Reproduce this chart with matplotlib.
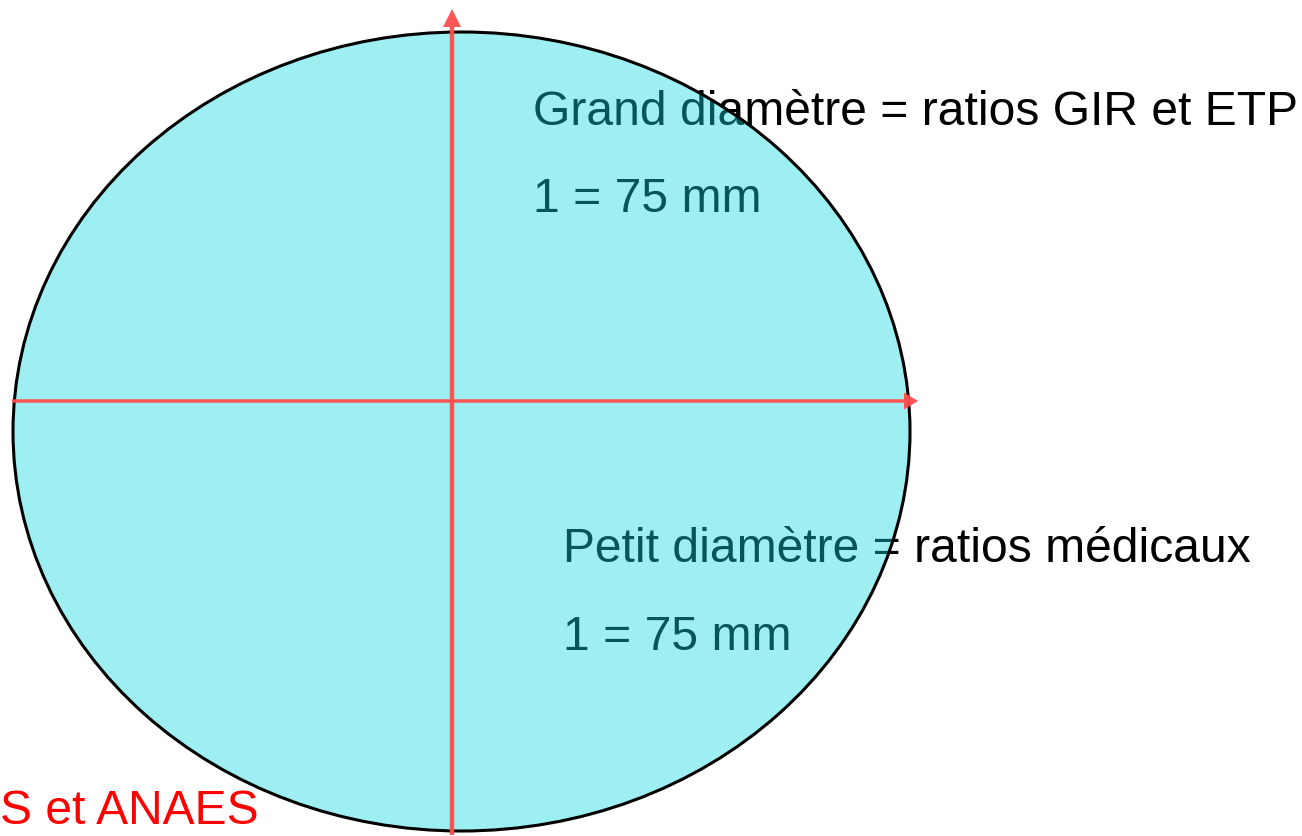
import matplotlib
matplotlib.use("Agg")
import matplotlib.pyplot as plt
from matplotlib.patches import Ellipse, FancyArrow

plt.rcParams['font.family'] = ['Liberation Sans', 'DejaVu Sans']

# diagram values (pixel space of the drawing)
ellipse_center = (461.5, 432.5)
ellipse_size = (897, 799)
h_axis = (12, 918, 402)   # x start, x end, y
v_axis = (452, 836, 10)   # x, y start, y end
labels = ["Grand diamètre = ratios GIR et ETP", "1 = 75 mm",
          "Petit diamètre = ratios médicaux", "1 = 75 mm"]
label_pos = [(533, 112), (533, 199), (563, 550), (563, 637)]
source_text = "S et ANAES"

fig = plt.figure(figsize=(13.02, 8.37), dpi=100)
ax = fig.add_axes([0, 0, 1, 1])
ax.set_xlim(0, 1302)
ax.set_ylim(837, 0)
ax.axis('off')

for t, (x, y) in zip(labels, label_pos):
    ax.text(x, y, t, fontsize=34.6, color='black', va='center', ha='left', zorder=1)

ell = Ellipse(ellipse_center, ellipse_size[0], ellipse_size[1],
              facecolor=(0.05, 0.85, 0.88, 0.40), edgecolor='black', lw=2.2, zorder=2)
ax.add_patch(ell)

red = (1.0, 0.3, 0.3, 0.95)
x0, x1, yh = h_axis
ax.add_patch(FancyArrow(x0, yh, x1 - x0, 0, width=3.5, head_width=17,
                        head_length=14, length_includes_head=True,
                        color=red, lw=0, zorder=3))
xv, y0, y1 = v_axis
ax.add_patch(FancyArrow(xv, y0, 0, y1 - y0, width=4.5, head_width=18,
                        head_length=18, length_includes_head=True,
                        color=red, lw=0, zorder=3))

ax.text(0, 812, source_text, fontsize=34.6, color='red', va='center', ha='left', zorder=4)

fig.savefig("out.png", dpi=100)
